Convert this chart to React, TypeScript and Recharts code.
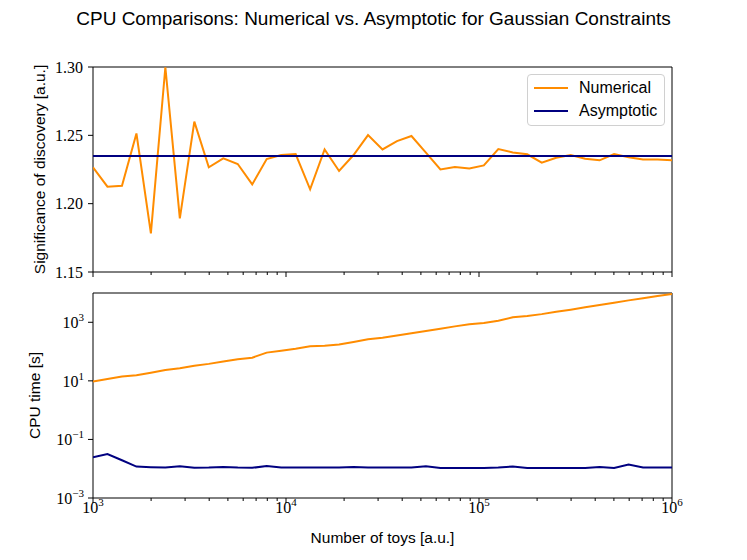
import React from 'react';
import { LineChart, Line, XAxis, YAxis, ReferenceArea } from 'recharts';

const toys = [
  1000, 1188, 1413, 1679, 1995, 2371, 2818, 3350, 3981, 4732, 5623, 6683, 7943, 9441,
  11220, 13335, 15849, 18836, 22387, 26607, 31623, 37584, 44668, 53088, 63096, 74989,
  89125, 105925, 125893, 149624, 177828, 211349, 251189, 298538, 354813, 421697,
  501187, 595662, 707946, 841395, 1000000,
];

const sigNumerical = [
  1.2266, 1.2124, 1.2131, 1.2514, 1.1782, 1.2998, 1.1892, 1.26, 1.2266, 1.2331, 1.229,
  1.2141, 1.2326, 1.2356, 1.2363, 1.2105, 1.2397, 1.2239, 1.2356, 1.2502, 1.2397,
  1.2458, 1.2495, 1.2373, 1.2251, 1.2268, 1.2258, 1.228, 1.24, 1.2375, 1.2361, 1.23,
  1.2336, 1.2356, 1.2329, 1.2317, 1.2363, 1.2339, 1.2324, 1.2324, 1.2317,
];

const sigAsymptotic = [
  1.2348, 1.2348, 1.2348, 1.2348, 1.2348, 1.2348, 1.2348, 1.2348, 1.2348, 1.2348, 1.2348,
  1.2348, 1.2348, 1.2348, 1.2348, 1.2348, 1.2348, 1.2348, 1.2348, 1.2348, 1.2348,
  1.2348, 1.2348, 1.2348, 1.2348, 1.2348, 1.2348, 1.2348, 1.2348, 1.2348, 1.2348,
  1.2348, 1.2348, 1.2348, 1.2348, 1.2348, 1.2348, 1.2348, 1.2348, 1.2348, 1.2348,
];

const cpuNumerical = [
  9.5, 11.5, 14, 15.5, 19, 23.5, 27, 33, 38, 46, 55, 62, 92, 107, 125, 152, 159, 173,
  212, 262, 295, 355, 425, 500, 600, 725, 850, 950, 1130, 1480, 1650, 1900, 2300, 2700,
  3250, 3900, 4650, 5600, 6600, 7900, 9200,
];

const cpuAsymptotic = [
  0.0245, 0.0316, 0.0194, 0.0118, 0.0113, 0.011, 0.0122, 0.0107, 0.0109, 0.0115, 0.0109,
  0.0107, 0.0124, 0.0109, 0.0109, 0.0109, 0.0109, 0.0109, 0.0115, 0.0109, 0.0109,
  0.0109, 0.0109, 0.0122, 0.0106, 0.0106, 0.0106, 0.0106, 0.0109, 0.0119, 0.0106,
  0.0106, 0.0106, 0.0106, 0.0106, 0.0115, 0.0106, 0.0138, 0.011, 0.011, 0.011,
];

const xTicks = [
  1e3, 2e3, 3e3, 4e3, 5e3, 6e3, 7e3, 8e3, 9e3,
  1e4, 2e4, 3e4, 4e4, 5e4, 6e4, 7e4, 8e4, 9e4,
  1e5, 2e5, 3e5, 4e5, 5e5, 6e5, 7e5, 8e5, 9e5,
  1e6,
];
const sigTicks = [1.15, 1.2, 1.25, 1.3];
const cpuTicks = [1e-3, 1e-1, 1e1, 1e3];

const ORANGE = '#FF8C00';
const NAVY = '#000080';
const SANS = '"Liberation Sans", Arial, sans-serif';
const SERIF = '"Liberation Serif", "Times New Roman", serif';

const sigData = toys.map((t, i) => ({ toys: t, numerical: sigNumerical[i], asymptotic: sigAsymptotic[i] }));
const cpuData = toys.map((t, i) => ({ toys: t, numerical: cpuNumerical[i], asymptotic: cpuAsymptotic[i] }));

const expLabel = (v: number) => {
  const e = Math.round(Math.log10(v));
  return e < 0 ? `\u2212${-e}` : `${e}`;
};

const isMajor = (v: number) => {
  const e = Math.log10(v);
  return Math.abs(e - Math.round(e)) < 1e-6;
};

const makeXTick = (showLabel: boolean) => (props: any) => {
  const { x, y, payload } = props;
  const major = isMajor(payload.value);
  return (
    <g>
      <line x1={x} x2={x} y1={y} y2={y + (major ? 5 : 3)} stroke="#000" strokeWidth={1} />
      {major && showLabel && (
        <text x={x} y={y + 15} textAnchor="middle" fontFamily={SERIF} fontSize={16} fill="#000">
          <tspan>10</tspan>
          <tspan dy={-7} fontSize={11}>{expLabel(payload.value)}</tspan>
        </text>
      )}
    </g>
  );
};

const LogYTick = (props: any) => {
  const { x, y, payload } = props;
  return (
    <g>
      <line x1={x - 5} x2={x} y1={y} y2={y} stroke="#000" strokeWidth={1} />
      <text x={x - 9} y={y + 6} textAnchor="end" fontFamily={SERIF} fontSize={16} fill="#000">
        <tspan>10</tspan>
        <tspan dy={-7} fontSize={11}>{expLabel(payload.value)}</tspan>
      </text>
    </g>
  );
};

const SigYTick = (props: any) => {
  const { x, y, payload } = props;
  return (
    <g>
      <line x1={x - 5} x2={x} y1={y} y2={y} stroke="#000" strokeWidth={1} />
      <text x={x - 10} y={y + 5.5} textAnchor="end" fontFamily={SERIF} fontSize={16} fill="#000">
        {payload.value.toFixed(2)}
      </text>
    </g>
  );
};

const Legend = () => (
  <div
    style={{
      position: 'absolute', left: 527, top: 74, width: 138, height: 52,
      boxSizing: 'border-box', border: '1px solid #d0d0d0', borderRadius: 4,
      background: 'rgba(255,255,255,0.8)', fontFamily: SANS, fontSize: 16, color: '#000',
    }}
  >
    {[{ name: 'Numerical', color: ORANGE }, { name: 'Asymptotic', color: NAVY }].map((it, i) => (
      <div key={it.name} style={{ position: 'absolute', left: 0, top: 3 + i * 23, height: 20, width: 136 }}>
        <svg width={40} height={20} style={{ position: 'absolute', left: 5, top: 0 }}>
          <line x1={1} x2={35} y1={10} y2={10} stroke={it.color} strokeWidth={2} />
        </svg>
        <span style={{ position: 'absolute', left: 51, top: 0, lineHeight: '20px', whiteSpace: 'nowrap' }}>
          {it.name}
        </span>
      </div>
    ))}
  </div>
);

export default function App() {
  return (
    <div style={{ position: 'absolute', left: 0, top: 0, width: 747, height: 560, background: '#fff' }}>
      <div
        style={{
          position: 'absolute', left: 0, top: 8, width: 747, textAlign: 'center',
          fontFamily: SANS, fontSize: 19, color: '#000', whiteSpace: 'nowrap',
        }}
      >
        CPU Comparisons: Numerical vs. Asymptotic for Gaussian Constraints
      </div>

      {/* top panel: significance */}
      <div style={{ position: 'absolute', left: 0, top: 0 }}>
        <LineChart width={747} height={300} data={sigData} margin={{ top: 67, right: 75, bottom: 8, left: 33 }}>
          <XAxis
            dataKey="toys" type="number" scale="log" domain={[1e3, 1e6]} allowDataOverflow
            ticks={xTicks} interval={0} axisLine={false} tickLine={false} tickSize={0} tickMargin={0}
            tick={makeXTick(false)} height={20}
          />
          <YAxis
            type="number" domain={[1.15, 1.3]} allowDataOverflow ticks={sigTicks} interval={0}
            axisLine={false} tickLine={false} tickSize={0} tickMargin={0} tick={SigYTick} width={60}
            label={() => (
              <text
                x={45} y={169.5} transform="rotate(-90 45 169.5)" textAnchor="middle"
                fontFamily={SANS} fontSize={15.5} fill="#000"
              >
                Significance of discovery [a.u.]
              </text>
            )}
          />
          <Line dataKey="numerical" stroke={ORANGE} strokeWidth={2} dot={false} isAnimationActive={false} />
          <Line dataKey="asymptotic" stroke={NAVY} strokeWidth={2} dot={false} isAnimationActive={false} />
          <ReferenceArea x1={1e3} x2={1e6} y1={1.15} y2={1.3} fill="none" stroke="#000" strokeWidth={1} />
        </LineChart>
      </div>

      {/* bottom panel: cpu time */}
      <div style={{ position: 'absolute', left: 0, top: 280 }}>
        <LineChart width={747} height={280} data={cpuData} margin={{ top: 13, right: 75, bottom: 32, left: 33 }}>
          <XAxis
            dataKey="toys" type="number" scale="log" domain={[1e3, 1e6]} allowDataOverflow
            ticks={xTicks} interval={0} axisLine={false} tickLine={false} tickSize={0} tickMargin={0}
            tick={makeXTick(true)} height={30}
            label={() => (
              <text x={382.5} y={263} textAnchor="middle" fontFamily={SANS} fontSize={15.5} fill="#000">
                Number of toys [a.u.]
              </text>
            )}
          />
          <YAxis
            type="number" scale="log" domain={[1e-3, 1e4]} allowDataOverflow ticks={cpuTicks} interval={0}
            axisLine={false} tickLine={false} tickSize={0} tickMargin={0} tick={LogYTick} width={60}
            label={() => (
              <text
                x={40} y={115.5} transform="rotate(-90 40 115.5)" textAnchor="middle"
                fontFamily={SANS} fontSize={15.5} fill="#000"
              >
                CPU time [s]
              </text>
            )}
          />
          <Line dataKey="numerical" stroke={ORANGE} strokeWidth={2} dot={false} isAnimationActive={false} />
          <Line dataKey="asymptotic" stroke={NAVY} strokeWidth={2} dot={false} isAnimationActive={false} />
          <ReferenceArea x1={1e3} x2={1e6} y1={1e-3} y2={1e4} fill="none" stroke="#000" strokeWidth={1} />
        </LineChart>
      </div>

      <Legend />
    </div>
  );
}
